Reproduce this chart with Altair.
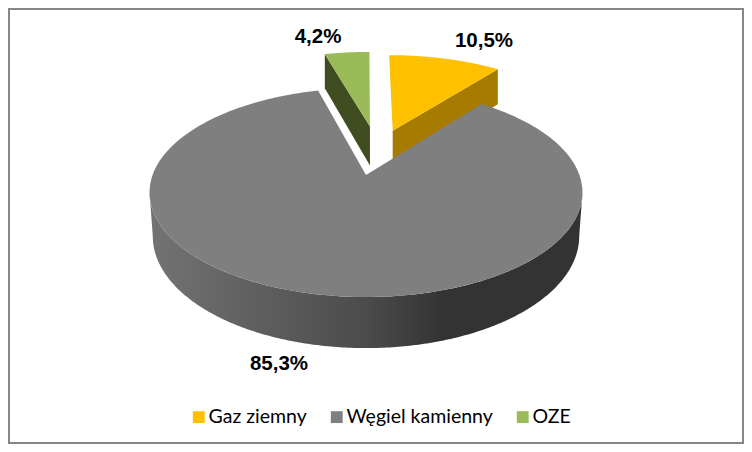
import math
import altair as alt
import pandas as pd

categories = ["Gaz ziemny", "Węgiel kamienny", "OZE"]
shares = [10.5, 85.3, 4.2]
share_labels = ["10,5%", "85,3%", "4,2%"]
colors = ["#FFC000", "#7F7F7F", "#9BBB59"]
side_colors = ["#A67C00", "#7F7F7F", "#3F4D20"]

# Perspective model of the pie plate (page pixels)
CX, CY = 366.0, 175.0
A, B, K = 213.4, 101.6, 0.1674
DEPTH = 42.5
TAPER = 0.985
OFFSETS = [(0.135, 0.47), (0.0, 0.0), (0.02, 0.52)]
LABEL_XY = [(484, 41), (279, 364), (318, 37)]


def project(x, y):
    w = 1 + K * y
    return CX + A * x / w, CY - B * y / w, DEPTH / w


spans = []
start = 0.0
for s in shares:
    spans.append((start, start + s * 3.6))
    start += s * 3.6


def rim(i, a0, a1, n=240):
    ex, ey = OFFSETS[i]
    pts = []
    for j in range(n + 1):
        t = math.radians(a0 + (a1 - a0) * j / n)
        pts.append(project(ex + math.sin(t), ey + math.cos(t)))
    return pts


def apex(i):
    return project(*OFFSETS[i])


def lower(p):
    return CX + (p[0] - CX) * TAPER, p[1] + p[2]


def frame(pts):
    return pd.DataFrame({"x": [p[0] for p in pts], "y": [p[1] for p in pts], "i": range(len(pts))})


x_scale = alt.Scale(domain=[8, 744], range=[0, 736])
y_scale = alt.Scale(domain=[8, 444], range=[0, 436])


def face(pts, fill):
    return alt.Chart(frame(pts)).mark_line(fill=fill, stroke=None, strokeWidth=0, clip=False).encode(
        x=alt.X("x:Q", scale=x_scale, axis=None),
        y=alt.Y("y:Q", scale=y_scale, axis=None),
        order="i:Q",
    )


def top_face(i):
    return [apex(i)] + rim(i, *spans[i])


def cut_face(i, theta):
    a = apex(i)
    r = rim(i, theta, theta, 1)[0]
    return [(a[0], a[1]), (r[0], r[1]), (r[0], r[1] + r[2]), (a[0], a[1] + a[2])]


# front of the outer wall: between the two points of widest extent of the plate
widest = math.degrees(math.acos(-K))
grey_rim = rim(1, widest, 360 - widest)
wall = [(p[0], p[1]) for p in grey_rim] + [lower(p) for p in reversed(grey_rim)]
wall_fill = alt.Gradient(
    gradient="linear", x1=0, x2=1, y1=0, y2=0,
    stops=[
        alt.GradientStop(offset=0, color="#737373"),
        alt.GradientStop(offset=0.5, color="#4B4B4B"),
        alt.GradientStop(offset=0.68, color="#333333"),
        alt.GradientStop(offset=1, color="#333333"),
    ],
)

layers = [
    face(cut_face(2, spans[2][0]), side_colors[2]),
    face(top_face(2), colors[2]),
    face(cut_face(0, spans[0][1]), side_colors[0]),
    face(top_face(0), colors[0]),
    face(wall, wall_fill),
    face(top_face(1), colors[1]),
]

labels = pd.DataFrame({
    "x": [p[0] for p in LABEL_XY],
    "y": [p[1] for p in LABEL_XY],
    "t": share_labels,
})
layers.append(
    alt.Chart(labels).mark_text(font="Liberation Sans", fontWeight="bold", fontSize=20.5, color="#000000").encode(
        x=alt.X("x:Q", scale=x_scale, axis=None),
        y=alt.Y("y:Q", scale=y_scale, axis=None),
        text="t:N",
    )
)

legend_df = pd.DataFrame({"c": categories})
layers.append(
    alt.Chart(legend_df).mark_square(size=0).encode(
        color=alt.Color(
            "c:N",
            scale=alt.Scale(domain=categories, range=colors),
            legend=alt.Legend(
                orient="none", legendX=181, legendY=399, direction="horizontal", columns=3,
                title=None, symbolType="square", symbolSize=140, symbolOpacity=1,
                labelFont="Lato", labelFontSize=19.5, labelColor="#000000",
                symbolStrokeWidth=0, columnPadding=20, labelOffset=0,
            ),
        )
    )
)

chart = alt.layer(*layers).properties(
    width=736, height=436, padding=0, autosize=alt.AutoSizeParams(type="none"), background="#FFFFFF"
).configure_view(stroke="#868686", strokeWidth=4)

chart.save("out.html", embed_options={"renderer": "svg", "actions": False})
